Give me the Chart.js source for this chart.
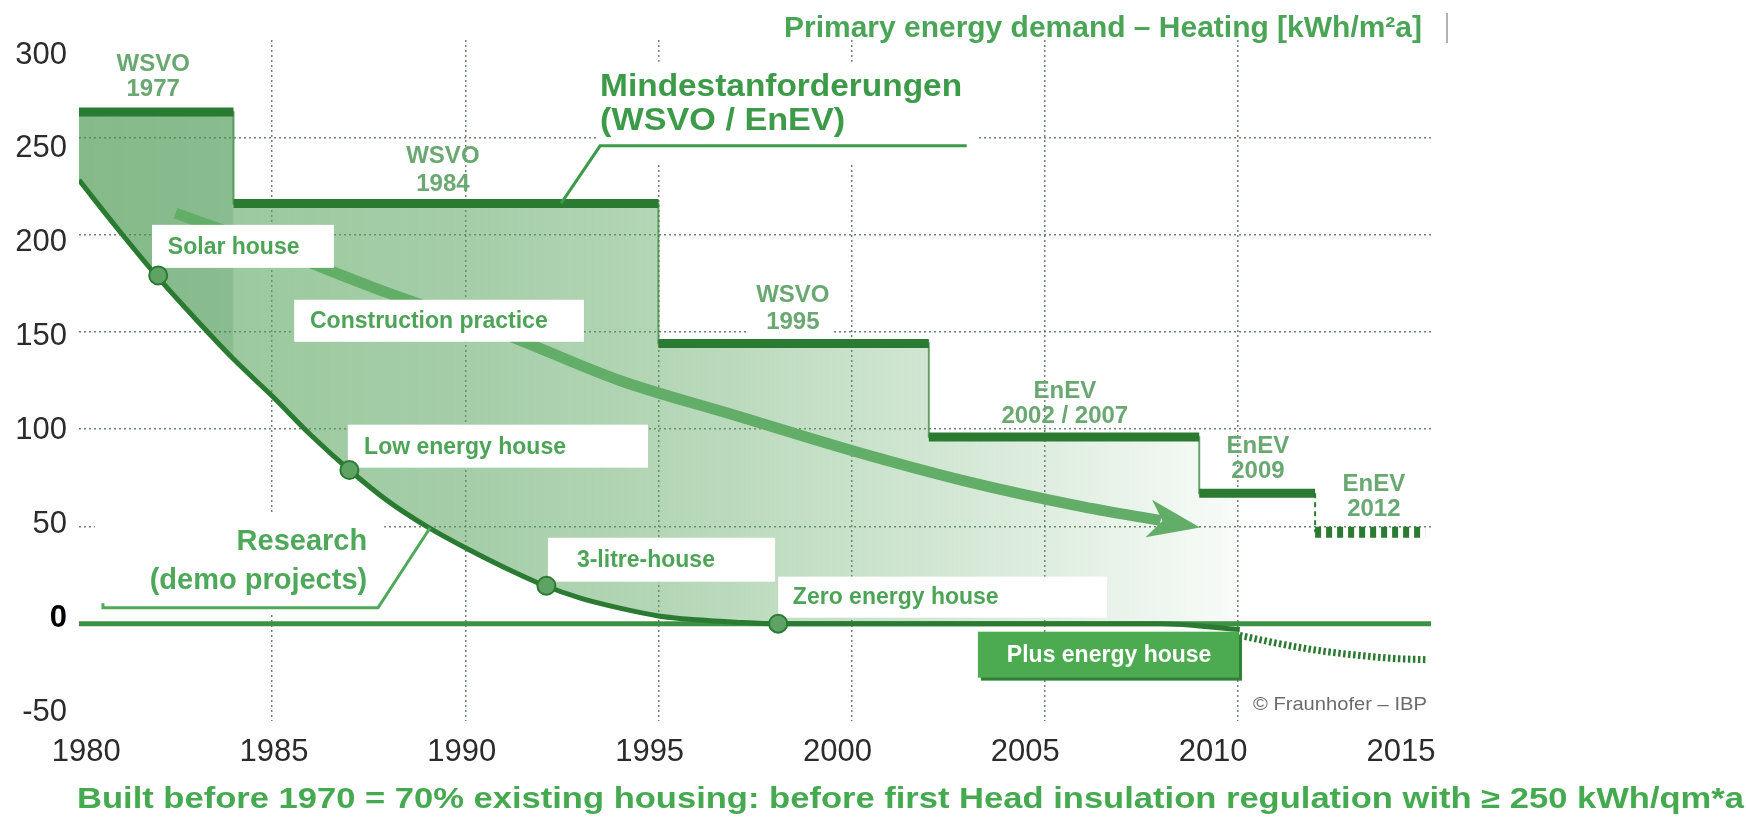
<!DOCTYPE html>
<html lang="en">
<head>
<meta charset="utf-8">
<title>Primary energy demand – Heating</title>
<script src="https://cdn.jsdelivr.net/npm/chart.js@4.4.1/dist/chart.umd.min.js"></script>
<style>
html,body{margin:0;padding:0;background:#ffffff;overflow:hidden;}
#wrap{width:1746px;height:817px;position:relative;}
canvas{display:block;}
</style>
</head>
<body>
<div id="wrap"><canvas id="chart" width="1746" height="817"></canvas></div>
<script>
// ---------------- data ----------------
const xTickYears = [1980, 1985, 1990, 1995, 2000, 2005, 2010, 2015];
const yTickValues = [-50, 0, 50, 100, 150, 200, 250, 300];

const regulationNames = ['WSVO 1977', 'WSVO 1984', 'WSVO 1995', 'EnEV 2002 / 2007', 'EnEV 2009', 'EnEV 2012'];
const regulationStart = [1980, 1984, 1995, 2002, 2009, 2012];
const regulationLevel = [263, 216, 144, 96, 67, 47];
const regulationLastYear = 2014.85;

const researchYears  = [1980, 1981, 1982, 1983, 1984, 1985, 1986, 1987, 1988, 1989, 1990, 1991, 1992, 1993, 1994, 1995, 1996, 1997, 1998.1, 2004, 2008, 2010.05];
const researchValues = [228, 203, 179, 157, 136, 117, 97, 79, 63, 50, 39, 29, 20, 13, 8, 4, 2, 0.8, 0, 0, 0, -3];

const outlookYears  = [2010.05, 2011, 2012, 2013, 2014, 2014.9];
const outlookValues = [-6, -10, -13.5, -16, -17.8, -18.5];

const practiceYears  = [1982.5, 1985, 1988, 1991, 1994, 1997, 2000, 2003, 2006, 2008];
const practiceValues = [211, 193, 170, 149, 125, 107, 89, 73, 60, 53];

const milestoneNames  = ['Solar house', 'Low energy house', '3-litre-house', 'Zero energy house'];
const milestoneYears  = [1982.05, 1987, 1992.1, 1998.1];
const milestoneValues = [179, 79, 19.5, 0];

// ---------------- styling / layout ----------------
const FONT = "'Liberation Sans', Arial, Helvetica, sans-serif";
const DARK = '#2b7a31';
const LABEL_GREEN = '#4da457';
// the tick labels of the original graphic sit on a slightly different scale than its grid
const xLabelRange = [1979.81, 2015.80];
const yLabelRange = [-54.8, 308];

// label anchors in data units: [centerYear, line1Value, line2Value]
const regLabelPos = [[1981.92, 287.3, 274.4], [1989.42, 240.0, 225.6], [1998.48, 168.5, 154.7],
                     [2005.52, 119.2, 106.4], [2010.52, 91.0, 78.1], [2013.52, 71.4, 58.6]];
// boxes: [x0, x1, yTop, yBottom, textX]
const milestoneBoxes = [[1981.89, 1986.60, 205.0, 182.9, 1982.30], [1986.96, 1994.73, 102.3, 80.2, 1987.38],
                        [1992.14, 1998.02, 44.2, 21.6, 1992.89], [1998.10, 2006.61, 24.2, 3.1, 1998.48]];
const practiceBox = [1985.57, 1993.07, 166.5, 144.9, 1985.98];
const plusBox = [2003.27, 2010.03, -4.1, -27.7, 2004.02];

// ---------------- build series ----------------
const zip = (xs, ys) => xs.map((x, i) => ({x, y: ys[i]}));
const stepPts = [];
for (let i = 0; i < 5; i++) stepPts.push({x: regulationStart[i], y: regulationLevel[i]});
stepPts.push({x: regulationStart[5], y: regulationLevel[4]});
const barPts = [];
for (let i = 0; i < 5; i++) {
  barPts.push({x: regulationStart[i], y: regulationLevel[i]}, {x: regulationStart[i + 1], y: regulationLevel[i]}, {x: regulationStart[i + 1], y: null});
}
const combPts = [{x: regulationStart[5], y: regulationLevel[5]}, {x: regulationLastYear, y: regulationLevel[5]}];
const dropPts = [{x: regulationStart[5], y: regulationLevel[4]}, {x: regulationStart[5], y: regulationLevel[5]}];
const zeroPts = [{x: xTickYears[0], y: 0}, {x: xTickYears[xTickYears.length - 1], y: 0}];

const IDX = {step: 0, bars: 1, research: 2, outlook: 3, zero: 4, comb: 5, drop: 6, arrow: 7, markers: 8};

function fillGradient(ctx) {
  const ch = ctx.chart;
  if (!ch.chartArea) return 'rgba(0,0,0,0)';
  const xs = ch.scales.x;
  const g = ch.ctx.createLinearGradient(xs.getPixelForValue(1980), 0, xs.getPixelForValue(2010), 0);
  g.addColorStop(0, 'rgba(70,150,78,0.66)');
  g.addColorStop(0.132, 'rgba(70,150,78,0.64)');
  g.addColorStop(0.134, 'rgba(90,165,95,0.6)');
  g.addColorStop(0.33, 'rgba(90,165,95,0.55)');
  g.addColorStop(0.5, 'rgba(90,165,95,0.46)');
  g.addColorStop(0.67, 'rgba(90,165,95,0.33)');
  g.addColorStop(0.83, 'rgba(90,165,95,0.2)');
  g.addColorStop(1, 'rgba(90,165,95,0.04)');
  return g;
}

function drawArrowHead(chart) {
  const c = chart.ctx;
  const pts = chart.getDatasetMeta(IDX.arrow).data;
  const a = pts[pts.length - 2], b = pts[pts.length - 1];
  let dx = b.x - a.x, dy = b.y - a.y;
  const L = Math.hypot(dx, dy); dx /= L; dy /= L;
  const nx = -dy, ny = dx;
  const tip = {x: b.x + 40 * dx, y: b.y + 40 * dy};
  const back = {x: b.x - 12 * dx, y: b.y - 12 * dy};
  const notch = {x: b.x + 2 * dx, y: b.y + 2 * dy};
  c.save();
  c.fillStyle = '#62ad68';
  c.beginPath();
  c.moveTo(tip.x, tip.y);
  c.lineTo(back.x + 19 * nx, back.y + 19 * ny);
  c.lineTo(notch.x, notch.y);
  c.lineTo(back.x - 19 * nx, back.y - 19 * ny);
  c.closePath();
  c.fill();
  c.restore();
}

function fitText(c, text, x, y, width, align) {
  const w = c.measureText(text).width;
  c.save();
  c.translate(x, y);
  c.scale(width / w, 1);
  c.textAlign = align;
  c.fillText(text, 0, 0);
  c.restore();
}

function drawNotes(chart) {
  const c = chart.ctx, xs = chart.scales.x, ys = chart.scales.y;
  const X = v => xs.getPixelForValue(v), Y = v => ys.getPixelForValue(v);
  const rectV = (x0, x1, y0, y1) => c.fillRect(X(x0), Y(y0), X(x1) - X(x0), Y(y1) - Y(y0));
  c.save();
  c.textBaseline = 'middle';

  // white masks behind free labels
  c.fillStyle = '#ffffff';
  rectV(1993.43, 2003.27, 288.8, 236.9);
  rectV(1980.41, 1987.90, 56.5, 5.1);
  rectV(1997.34, 1999.52, 174.8, 147.2);

  // regulation labels
  c.fillStyle = '#6aa872';
  c.font = 'bold 24px ' + FONT;
  c.textAlign = 'center';
  regulationNames.forEach((n, i) => {
    const k = n.indexOf(' ');
    const p = regLabelPos[i];
    c.fillText(n.slice(0, k), X(p[0]), Y(p[1]));
    c.fillText(n.slice(k + 1), X(p[0]), Y(p[2]));
  });

  // Mindestanforderungen
  c.fillStyle = '#3d9a48';
  c.font = 'bold 31px ' + FONT;
  const mx = X(1993.49);
  fitText(c, 'Mindestanforderungen', mx, Y(275.7), 362, 'left');
  fitText(c, '(WSVO / EnEV)', mx, Y(258.2), 245, 'left');
  c.strokeStyle = '#3d9a48';
  c.lineWidth = 3;
  c.beginPath();
  c.moveTo(X(1992.48), Y(216));
  c.lineTo(X(1993.49), Y(245.6));
  c.lineTo(X(2002.98), Y(245.6));
  c.stroke();

  // Research (demo projects)
  c.fillStyle = '#4ea85a';
  c.font = 'bold 29px ' + FONT;
  c.textAlign = 'right';
  c.fillText('Research', X(1987.46), Y(42.1));
  c.fillText('(demo projects)', X(1987.46), Y(22.1));
  c.strokeStyle = '#4ea85a';
  c.lineWidth = 3;
  c.beginPath();
  c.moveTo(X(1980.62), Y(10.5));
  c.lineTo(X(1980.62), Y(8.2));
  c.lineTo(X(1987.74), Y(8.2));
  c.lineTo(X(1989.09), Y(49.3));
  c.stroke();

  // milestone boxes
  c.font = 'bold 23px ' + FONT;
  c.textAlign = 'left';
  const labelBox = (b, text) => {
    c.fillStyle = '#ffffff';
    rectV(b[0], b[1], b[2], b[3]);
    c.fillStyle = LABEL_GREEN;
    c.fillText(text, X(b[4]), (Y(b[2]) + Y(b[3])) / 2 + 1);
  };
  labelBox(practiceBox, 'Construction practice');
  milestoneNames.forEach((n, i) => labelBox(milestoneBoxes[i], n));

  // Plus energy house
  c.fillStyle = '#2f7f35';
  c.fillRect(X(plusBox[0]) + 3, Y(plusBox[2]) + 3, X(plusBox[1]) - X(plusBox[0]), Y(plusBox[3]) - Y(plusBox[2]));
  c.fillStyle = '#4caa50';
  rectV(plusBox[0], plusBox[1], plusBox[2], plusBox[3]);
  c.fillStyle = '#ffffff';
  c.fillText('Plus energy house', X(plusBox[4]), (Y(plusBox[2]) + Y(plusBox[3])) / 2 + 1);

  // copyright
  c.fillStyle = '#6b6b6b';
  c.font = '19px ' + FONT;
  fitText(c, '\u00A9 Fraunhofer \u2013 IBP', X(2010.39), Y(-41.6), 174, 'left');

  // title + caption
  c.fillStyle = '#4aa556';
  c.font = 'bold 29px ' + FONT;
  fitText(c, 'Primary energy demand \u2013 Heating [kWh/m\u00B2a]', 1422, 29, 638, 'right');
  c.strokeStyle = '#9a9a9a';
  c.lineWidth = 1.5;
  c.beginPath(); c.moveTo(1447, 13); c.lineTo(1447, 43); c.stroke();

  c.fillStyle = '#45aa4f';
  c.font = 'bold 29px ' + FONT;
  fitText(c, 'Built before 1970 = 70% existing housing: before first Head insulation regulation with \u2265 250 kWh/qm*a', 77, 800, 1667, 'left');
  c.restore();
}

const notesPlugin = {
  id: 'notes',
  afterDatasetDraw(chart, args) { if (args.index === IDX.arrow) drawArrowHead(chart); },
  beforeDatasetDraw(chart, args) { if (args.index === IDX.markers) drawNotes(chart); }
};

const lineBase = {pointRadius: 0, pointHoverRadius: 0, fill: false, xAxisID: 'x', yAxisID: 'y'};
const GRID = 'rgba(85,110,90,0.85)';

new Chart(document.getElementById('chart'), {
  type: 'line',
  data: {
    datasets: [
      Object.assign({}, lineBase, {label: 'Mindestanforderungen', data: stepPts, stepped: true, borderColor: 'rgba(55,135,62,0.75)', borderWidth: 2,
        fill: {target: IDX.research}, backgroundColor: fillGradient, order: 10}),
      Object.assign({}, lineBase, {label: 'Regulation levels', data: barPts, borderColor: DARK, borderWidth: 9, borderCapStyle: 'butt', spanGaps: false, order: 7}),
      Object.assign({}, lineBase, {label: 'Research', data: zip(researchYears, researchValues), borderColor: DARK, borderWidth: 5, cubicInterpolationMode: 'monotone', order: 8}),
      Object.assign({}, lineBase, {label: 'Outlook', data: zip(outlookYears, outlookValues), borderColor: DARK, borderWidth: 7, borderDash: [2.5, 2.5], cubicInterpolationMode: 'monotone', order: 8}),
      Object.assign({}, lineBase, {label: 'Zero', data: zeroPts, borderColor: '#3c9142', borderWidth: 5, order: 9}),
      Object.assign({}, lineBase, {label: 'EnEV 2012', data: combPts, borderColor: DARK, borderWidth: 11, borderDash: [6, 5], borderCapStyle: 'butt', order: 7}),
      Object.assign({}, lineBase, {label: 'EnEV 2012 step', data: dropPts, borderColor: DARK, borderWidth: 2, borderDash: [5, 4], order: 7}),
      Object.assign({}, lineBase, {label: 'Construction practice', data: zip(practiceYears, practiceValues), borderColor: '#62ad68', borderWidth: 11, borderCapStyle: 'butt', cubicInterpolationMode: 'monotone', order: 6}),
      {label: 'Milestones', data: zip(milestoneYears, milestoneValues), showLine: false, pointRadius: 9, pointHoverRadius: 9, xAxisID: 'x', yAxisID: 'y',
        pointBackgroundColor: '#5ea363', pointBorderColor: DARK, pointBorderWidth: 2, order: 1}
    ]
  },
  options: {
    responsive: false,
    animation: false,
    events: [],
    layout: {padding: {left: 0, right: 315, top: 40, bottom: 0}},
    plugins: {legend: {display: false}, tooltip: {enabled: false}, title: {display: false}},
    scales: {
      x: {
        type: 'linear', position: 'bottom', min: xTickYears[0], max: xTickYears[xTickYears.length - 1],
        afterBuildTicks: s => { s.ticks = xTickYears.map(v => ({value: v})); },
        afterFit: s => { s.height = 0; },
        grid: {
          color: ctx => (ctx.tick && (ctx.tick.value === xTickYears[0] || ctx.tick.value === xTickYears[xTickYears.length - 1])) ? 'rgba(0,0,0,0)' : GRID,
          lineWidth: 1.5, drawTicks: false
        },
        border: {display: false, dash: [2, 3]},
        ticks: {display: false}
      },
      xLabels: {
        type: 'linear', position: 'bottom', min: xLabelRange[0], max: xLabelRange[1],
        afterBuildTicks: s => { s.ticks = xTickYears.map(v => ({value: v})); },
        afterFit: s => { s.height = 96; },
        grid: {display: false, drawTicks: false},
        border: {display: false},
        ticks: {padding: 13, color: '#2b2b2b', font: {family: FONT, size: 31}, maxRotation: 0, autoSkip: false, callback: v => String(v)}
      },
      y: {
        type: 'linear', position: 'left', min: yTickValues[0], max: yTickValues[yTickValues.length - 1],
        afterBuildTicks: s => { s.ticks = yTickValues.map(v => ({value: v})); },
        afterFit: s => { s.width = 0; },
        grid: {
          color: ctx => (ctx.tick && ctx.tick.value > 0 && ctx.tick.value < 300) ? GRID : 'rgba(0,0,0,0)',
          lineWidth: 1.5, drawTicks: false
        },
        border: {display: false, dash: [2, 3]},
        ticks: {display: false}
      },
      yLabels: {
        type: 'linear', position: 'left', min: yLabelRange[0], max: yLabelRange[1],
        afterBuildTicks: s => { s.ticks = yTickValues.map(v => ({value: v})); },
        afterFit: s => { s.width = 79; },
        grid: {display: false, drawTicks: false},
        border: {display: false},
        ticks: {
          padding: 12,
          color: ctx => (ctx.tick && ctx.tick.value === 0) ? '#000000' : '#2b2b2b',
          font: ctx => (ctx.tick && ctx.tick.value === 0) ? {family: FONT, size: 31, weight: 'bold'} : {family: FONT, size: 31},
          callback: v => String(v)
        }
      }
    }
  },
  plugins: [notesPlugin]
});
</script>
</body>
</html>
